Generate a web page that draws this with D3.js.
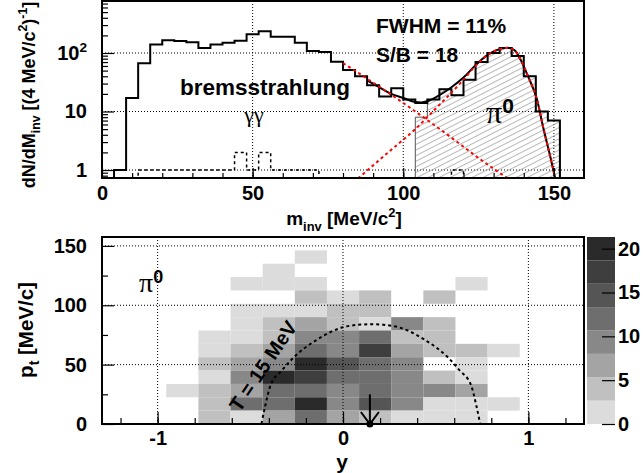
<!DOCTYPE html>
<html>
<head>
<meta charset="utf-8">
<script src="https://cdn.jsdelivr.net/npm/d3@7"></script>
<style>
  body { margin: 0; background: #fff; }
  text { font-family: "Liberation Sans", Arial, Helvetica, sans-serif; font-weight: bold; fill: #000; }
  .greek { font-family: "Liberation Serif", "Times New Roman", serif; font-weight: normal; }
</style>
</head>
<body>
<svg width="643" height="473"></svg>
<script>
// ---- data ----
const massBinWidth = 4;                               // MeV/c^2
const totalCounts = [0, 1, 17, 67, 140, 165, 160, 152, 122, 140,
                     150, 162, 210, 235, 190, 190, 150, 108, 104, 71,
                     51, 40, 28, 18, 25, 16, 14, 16, 24, 19,
                     35, 70, 100, 122, 89, 40, 10, 7, 0, 0];
const signalStart = 104;
const signalCounts = [8, 16, 24, 19, 35, 70, 100, 122, 89, 40, 10, 7];
const gammaCounts = [0, 0, 0, 1, 1, 1, 1, 1, 1, 1,
                     1, 2, 1, 2, 1, 1, 1, 1, 0, 0,
                     0, 0, 0, 0, 0, 0, 0, 0, 0, 1,
                     0, 0, 0, 0, 0, 0, 0, 0, 0, 0];
const fitBackground = [[80, 67], [85, 46], [90, 31], [95, 21], [100, 14], [105, 9.2],
                       [110, 6], [115, 3.9], [120, 2.5], [125, 1.6], [130, 1.05], [135, 0.7]];
const fitSignal = [[85, 0.72], [90, 1.2], [95, 2], [100, 3.3], [104, 5], [108, 8], [112, 13],
                   [116, 21], [120, 35], [124, 60], [128, 92], [131, 112], [134.5, 122],
                   [137, 110], [139, 76], [141.5, 39], [144.4, 16], [146.4, 5.5], [148.8, 1.7], [150.5, 0.7]];
const fitTotal = [[88, 34], [92, 26], [96, 20], [100, 17], [104, 14.5], [106, 14.3], [108, 15],
                  [112, 19], [116, 26], [120, 38], [124, 62], [128, 93], [131, 112], [134.5, 123],
                  [137, 111], [139, 76], [141.5, 39], [144.4, 16], [146.4, 5.5], [148.8, 1.7], [150.5, 0.7]];

const rapidityBins = 15;          // over [-1.3, 1.3]
const ptBins = 14;                // over [0, 157.5]
// counts per cell, top row (highest pt) first
const cellCounts = [
  [0, 0, 0, 0, 0, 0, 0, 0, 0, 0, 0, 0, 0, 0, 0],
  [0, 0, 0, 0, 0, 0, 2, 0, 0, 0, 0, 0, 0, 0, 0],
  [0, 0, 0, 0, 0, 2, 0, 0, 0, 0, 0, 0, 0, 0, 0],
  [0, 0, 0, 0, 2, 2, 2, 0, 0, 0, 0, 2, 0, 0, 0],
  [0, 0, 0, 0, 0, 0, 4, 2, 4, 0, 4, 0, 0, 0, 0],
  [0, 0, 0, 0, 2, 2, 2, 4, 4, 0, 0, 0, 0, 0, 0],
  [0, 0, 0, 0, 2, 4, 7, 4, 2, 9, 4, 0, 0, 0, 0],
  [0, 0, 0, 2, 2, 4, 9, 9, 12, 4, 4, 0, 0, 0, 0],
  [0, 0, 0, 2, 4, 7, 12, 9, 17, 7, 4, 4, 2, 0, 0],
  [0, 0, 0, 4, 7, 9, 20, 15, 12, 9, 0, 2, 0, 0, 0],
  [0, 0, 0, 2, 9, 20, 17, 12, 12, 9, 4, 2, 0, 0, 0],
  [0, 0, 2, 4, 7, 12, 12, 9, 12, 9, 9, 7, 0, 0, 0],
  [0, 0, 0, 4, 12, 12, 20, 9, 15, 9, 2, 2, 2, 0, 0],
  [0, 0, 0, 4, 2, 7, 12, 7, 4, 2, 2, 2, 0, 0, 0]
];
const thermalCurve = [[-0.44, 0], [-0.42, 15], [-0.39, 33], [-0.33, 45], [-0.26, 57], [-0.14, 71],
                      [-0.06, 78], [0, 81.5], [0.08, 83.5], [0.15, 84], [0.22, 83.5], [0.30, 81.5],
                      [0.36, 78], [0.44, 71], [0.56, 57], [0.63, 45], [0.69, 33], [0.72, 15], [0.74, 0]];
const midRapidity = 0.145;
const zMax = 21.33;
const grays = ['#dcdcdc', '#c0c0c0', '#a4a4a4', '#888888', '#6e6e6e', '#555555', '#3e3e3e', '#2a2a2a'];
const colorTicks = [0, 5, 10, 15, 20];

// ---- helpers ----
const svg = d3.select('svg');
const tickFont = 20;

const richText = (sel, parts, size) => {
  let shift = 0;
  parts.forEach(([str, kind]) => {
    const target = kind === 'sup' ? -0.42 * size : kind === 'sub' ? 0.3 * size : 0;
    sel.append('tspan')
      .attr('dy', target - shift)
      .attr('font-size', kind ? size * 0.68 : size)
      .text(str);
    shift = target;
  });
};

const stepPoints = (counts, start, floor) => {
  const pts = [[start, floor]];
  counts.forEach((c, i) => {
    const v = c > 0 ? c : floor;
    pts.push([start + i * massBinWidth, v], [start + (i + 1) * massBinWidth, v]);
  });
  pts.push([start + counts.length * massBinWidth, floor]);
  return pts;
};

// ================= top panel =================
const upper = { left: 102, right: 584, top: 1, bottom: 178 };
const xTop = d3.scaleLinear().domain([0, 160]).range([upper.left, upper.right]);
const yTop = d3.scaleLog().domain([0.73, 774]).range([upper.bottom, upper.top]);

const defs = svg.append('defs');
defs.append('clipPath').attr('id', 'clipTop')
  .append('rect').attr('x', upper.left).attr('y', upper.top)
  .attr('width', upper.right - upper.left).attr('height', upper.bottom - upper.top);
const hatch = defs.append('pattern').attr('id', 'hatch')
  .attr('patternUnits', 'userSpaceOnUse').attr('width', 10).attr('height', 5)
  .attr('patternTransform', 'rotate(-27)');
hatch.append('line').attr('x1', 0).attr('x2', 10).attr('y1', 2.5).attr('y2', 2.5)
  .attr('stroke', '#9a9a9a').attr('stroke-width', 0.7);

const gTop = svg.append('g');

// grid
gTop.selectAll('.gx').data([50, 100, 150]).enter().append('line')
  .attr('x1', d => xTop(d)).attr('x2', d => xTop(d))
  .attr('y1', upper.top).attr('y2', upper.bottom)
  .attr('stroke', '#000').attr('stroke-width', 1).attr('stroke-dasharray', '1,2');
gTop.selectAll('.gy').data([1, 10, 100]).enter().append('line')
  .attr('x1', upper.left).attr('x2', upper.right)
  .attr('y1', d => yTop(d)).attr('y2', d => yTop(d))
  .attr('stroke', '#000').attr('stroke-width', 1).attr('stroke-dasharray', '1,2');

const histLine = d3.line().x(d => xTop(d[0])).y(d => yTop(d[1]));
const plotTop = gTop.append('g').attr('clip-path', 'url(#clipTop)');

plotTop.append('path')
  .attr('d', histLine(stepPoints(signalCounts, signalStart, 0.5)))
  .attr('fill', 'url(#hatch)').attr('stroke', '#555').attr('stroke-width', 1);

plotTop.append('path')
  .attr('d', histLine(stepPoints(gammaCounts, 0, 0.5)))
  .attr('fill', 'none').attr('stroke', '#000').attr('stroke-width', 1.5)
  .attr('stroke-dasharray', '3,3');

plotTop.append('path')
  .attr('d', histLine(stepPoints(totalCounts, 0, 0.5)))
  .attr('fill', 'none').attr('stroke', '#000').attr('stroke-width', 2);

const fitLine = d3.line().curve(d3.curveMonotoneX).x(d => xTop(d[0])).y(d => yTop(d[1]));
plotTop.append('path').attr('d', fitLine(fitTotal))
  .attr('fill', 'none').attr('stroke', '#000').attr('stroke-width', 2);
[fitBackground, fitSignal].forEach(curve => {
  plotTop.append('path').attr('d', fitLine(curve))
    .attr('fill', 'none').attr('stroke', '#ff0000').attr('stroke-width', 2)
    .attr('stroke-dasharray', '3,3');
});

// axes (ticks inside)
const xTopAxis = d3.axisBottom(xTop).tickValues([0, 50, 100, 150]).tickSize(-10).tickPadding(8);
const xTopMinor = d3.axisBottom(xTop).tickValues(d3.range(10, 160, 10)).tickSize(-5).tickFormat('');
gTop.append('g').attr('transform', `translate(0,${upper.bottom})`).call(xTopMinor);
gTop.append('g').attr('transform', `translate(0,${upper.bottom})`).call(xTopAxis)
  .selectAll('text').attr('font-size', tickFont);

const yMinor = [0.8, 0.9].concat(d3.range(2, 10), d3.range(20, 100, 10), d3.range(200, 800, 100));
gTop.append('g').attr('transform', `translate(${upper.left},0)`)
  .call(d3.axisLeft(yTop).tickValues(yMinor).tickSize(-6).tickFormat(''));
gTop.append('g').attr('transform', `translate(${upper.left},0)`)
  .call(d3.axisLeft(yTop).tickValues([1, 10, 100]).tickSize(-12).tickFormat(''));

const yTopLabels = [[1, [['1']]], [10, [['10']]], [100, [['10'], ['2', 'sup']]]];
yTopLabels.forEach(([v, parts]) => {
  const t = gTop.append('text').attr('x', 87).attr('y', yTop(v) + 7).attr('text-anchor', 'end');
  richText(t, parts, tickFont);
});

gTop.selectAll('.domain').remove();
gTop.append('rect')
  .attr('x', upper.left).attr('y', upper.top)
  .attr('width', upper.right - upper.left).attr('height', upper.bottom - upper.top)
  .attr('fill', 'none').attr('stroke', '#000').attr('stroke-width', 2);

// titles
const xTopTitle = gTop.append('text').attr('x', 344).attr('y', 225).attr('text-anchor', 'middle');
richText(xTopTitle, [['m'], ['inv', 'sub'], [' [MeV/c'], ['2', 'sup'], [']']], 19);
const yTopTitle = gTop.append('text').attr('text-anchor', 'middle')
  .attr('transform', 'translate(35,95) rotate(-90)');
richText(yTopTitle, [['dN/dM'], ['inv', 'sub'], [' [(4 MeV/c'], ['2', 'sup'], [')'], ['-1', 'sup'], [']']], 18);

// annotations
gTop.append('text').attr('x', 376).attr('y', 33).attr('font-size', 21).text('FWHM = 11%');
gTop.append('text').attr('x', 376).attr('y', 62).attr('font-size', 21).text('S/B = 18');
gTop.append('text').attr('x', 180).attr('y', 95).attr('font-size', 22.5).text('bremsstrahlung');
gTop.append('text').attr('class', 'greek').attr('x', 254).attr('y', 122)
  .attr('text-anchor', 'middle').attr('font-size', 22).text('γγ');
const piTop = gTop.append('text').attr('x', 486).attr('y', 123);
piTop.append('tspan').attr('class', 'greek').attr('font-size', 32).text('π');
piTop.append('tspan').attr('font-size', 21).attr('dy', -10).text('0');

// ================= bottom panel =================
const lower = { left: 102, right: 584, top: 237, bottom: 424 };
const xBot = d3.scaleLinear().domain([-1.3, 1.3]).range([lower.left, lower.right]);
const yBot = d3.scaleLinear().domain([0, 157.5]).range([lower.bottom, lower.top]);
const zColor = d3.scaleQuantize().domain([0, zMax]).range(grays);

const gBot = svg.append('g');

const yEdges = d3.range(rapidityBins + 1).map(j => -1.3 + j * 2.6 / rapidityBins);
const ptEdges = d3.range(ptBins + 1).map(i => i * 157.5 / ptBins);

const cells = [];
cellCounts.forEach((row, k) => {
  const i = ptBins - 1 - k;
  row.forEach((c, j) => { if (c > 0) cells.push({ i, j, c }); });
});

gBot.selectAll('rect.cell').data(cells).enter().append('rect')
  .attr('class', 'cell')
  .attr('x', d => xBot(yEdges[d.j]))
  .attr('y', d => yBot(ptEdges[d.i + 1]))
  .attr('width', d => xBot(yEdges[d.j + 1]) - xBot(yEdges[d.j]))
  .attr('height', d => yBot(ptEdges[d.i]) - yBot(ptEdges[d.i + 1]))
  .attr('fill', d => zColor(d.c));

// grid
gBot.selectAll('.gx').data([-1, 0, 1]).enter().append('line')
  .attr('x1', d => xBot(d)).attr('x2', d => xBot(d))
  .attr('y1', lower.top).attr('y2', lower.bottom)
  .attr('stroke', '#000').attr('stroke-width', 1).attr('stroke-dasharray', '1,2');
gBot.selectAll('.gy').data([50, 100, 150]).enter().append('line')
  .attr('x1', lower.left).attr('x2', lower.right)
  .attr('y1', d => yBot(d)).attr('y2', d => yBot(d))
  .attr('stroke', '#000').attr('stroke-width', 1).attr('stroke-dasharray', '1,2');

// thermal curve
gBot.append('path')
  .attr('d', d3.line().curve(d3.curveMonotoneX).x(d => xBot(d[0])).y(d => yBot(d[1]))(thermalCurve))
  .attr('fill', 'none').attr('stroke', '#000').attr('stroke-width', 2)
  .attr('stroke-dasharray', '3,3');

// mid-rapidity arrow
const ax = xBot(midRapidity);
const ay = yBot(0);
gBot.append('line').attr('x1', ax).attr('x2', ax).attr('y1', yBot(25)).attr('y2', ay)
  .attr('stroke', '#000').attr('stroke-width', 2);
gBot.append('path').attr('d', `M${ax - 9},${ay - 12}L${ax},${ay}L${ax + 9},${ay - 12}`)
  .attr('fill', 'none').attr('stroke', '#000').attr('stroke-width', 2);
gBot.append('circle').attr('cx', ax).attr('cy', ay).attr('r', 3.5).attr('fill', '#000');

// axes
gBot.append('g').attr('transform', `translate(0,${lower.bottom})`)
  .call(d3.axisBottom(xBot).tickValues(d3.range(-1.2, 1.3, 0.2)).tickSize(-6).tickFormat(''));
gBot.append('g').attr('transform', `translate(0,${lower.bottom})`)
  .call(d3.axisBottom(xBot).tickValues([-1, 0, 1]).tickSize(-12).tickPadding(7).tickFormat(d => String(d)))
  .selectAll('text').attr('font-size', tickFont);
gBot.append('g').attr('transform', `translate(${lower.left},0)`)
  .call(d3.axisLeft(yBot).tickValues([25, 75, 125]).tickSize(-6).tickFormat(''));
gBot.append('g').attr('transform', `translate(${lower.left},0)`)
  .call(d3.axisLeft(yBot).tickValues([0, 50, 100, 150]).tickSize(-12).tickPadding(15))
  .selectAll('text').attr('font-size', tickFont);
gBot.selectAll('.domain').remove();
gBot.append('rect')
  .attr('x', lower.left).attr('y', lower.top)
  .attr('width', lower.right - lower.left).attr('height', lower.bottom - lower.top)
  .attr('fill', 'none').attr('stroke', '#000').attr('stroke-width', 2);

// colour bar
const yZ = d3.scaleLinear().domain([0, zMax]).range([lower.bottom, lower.top]);
const bar = { x: 587, w: 28 };
const levels = d3.range(grays.length);
gBot.selectAll('rect.band').data(levels).enter().append('rect')
  .attr('class', 'band')
  .attr('x', bar.x).attr('width', bar.w)
  .attr('y', d => yZ((d + 1) * zMax / grays.length))
  .attr('height', d => yZ(d * zMax / grays.length) - yZ((d + 1) * zMax / grays.length))
  .attr('fill', d => grays[d]);
const zAxisG = gBot.append('g').attr('transform', `translate(${bar.x + bar.w},0)`)
  .call(d3.axisRight(yZ).tickValues(colorTicks).tickSize(-13).tickPadding(3));
zAxisG.select('.domain').remove();
zAxisG.selectAll('text').attr('font-size', tickFont);

// titles and labels
gBot.append('text').attr('x', 342).attr('y', 469).attr('text-anchor', 'middle')
  .attr('font-size', 21).text('y');
const yBotTitle = gBot.append('text').attr('text-anchor', 'middle')
  .attr('transform', 'translate(33,330) rotate(-90)');
richText(yBotTitle, [['p'], ['t', 'sub'], [' [MeV/c]']], 20.5);

const piBot = gBot.append('text').attr('x', 139).attr('y', 292);
piBot.append('tspan').attr('class', 'greek').attr('font-size', 28).text('π');
piBot.append('tspan').attr('font-size', 18).attr('dy', -9).text('0');

gBot.append('text').attr('text-anchor', 'middle').attr('dy', '0.35em')
  .attr('font-size', 20)
  .attr('transform', 'translate(263,366) rotate(-56)')
  .text('T = 15 MeV');

svg.selectAll('.tick line').attr('stroke', '#000').attr('stroke-width', 1.2);
svg.selectAll('.tick text').attr('fill', '#000')
  .style('font-family', '"Liberation Sans", Arial, sans-serif').style('font-weight', 'bold');
</script>
</body>
</html>
